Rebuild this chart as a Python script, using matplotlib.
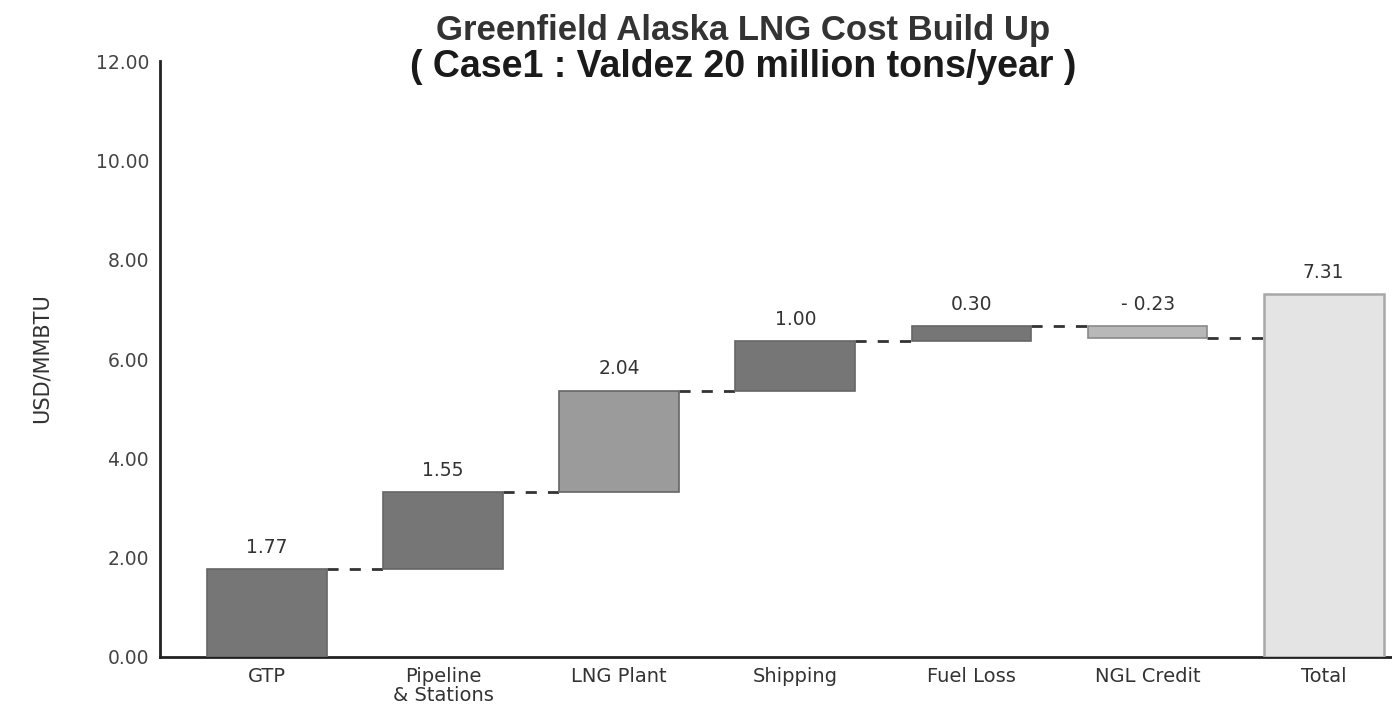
import numpy as np
import matplotlib
matplotlib.use("Agg")
import matplotlib.pyplot as plt

plt.rcParams['font.family'] = ['Liberation Sans', 'DejaVu Sans']

# cost build up, USD/MMBTU
categories = ['GTP', 'Pipeline\n& Stations', 'LNG Plant', 'Shipping', 'Fuel Loss', 'NGL Credit', 'Total']
steps = [1.77, 1.55, 2.04, 1.00, 0.30, -0.23]
step_labels = ['1.77', '1.55', '2.04', '1.00', '0.30', '- 0.23']
total = 7.31
total_label = '7.31'
step_colors = ['#767676', '#767676', '#9b9b9b', '#767676', '#767676', '#b8b8b8']
y_ticks = [0, 2, 4, 6, 8, 10, 12]

fig = plt.figure(figsize=(13.92, 7.17), dpi=100)
ax = fig.add_axes([0.115, 0.0837, 0.884, 0.831])

x = np.arange(len(categories))
width = 0.68

before = np.concatenate([[0], np.cumsum(steps)[:-1]])
after = np.cumsum(steps)
bottoms = np.minimum(before, after)
heights = np.abs(steps)

for i in range(len(steps)):
    edge = '#666666' if steps[i] > 0 else '#8a8a8a'
    ax.bar(x[i], heights[i], width, bottom=bottoms[i], color=step_colors[i],
           edgecolor=edge, linewidth=1.2, zorder=3)
    ax.annotate(step_labels[i], (x[i], max(before[i], after[i])),
                xytext=(0, 9), textcoords='offset points', ha='center', va='bottom',
                fontsize=13.5, color='#333333', family=['DejaVu Sans'])

ax.bar(x[-1], total, width, color='#e4e4e4', edgecolor='#a8a8a8', linewidth=1.8, zorder=3)
ax.annotate(total_label, (x[-1], total), xytext=(0, 9), textcoords='offset points',
            ha='center', va='bottom', fontsize=13.5, color='#333333', family=['DejaVu Sans'])

# dashed connectors between steps
for i in range(len(steps)):
    ax.plot([x[i] + width / 2, x[i + 1] - width / 2], [after[i], after[i]],
            color='#333333', linestyle=(0, (4, 4)), linewidth=2, zorder=2)

ax.set_xlim(-0.607, 6.38)
ax.set_ylim(0, 12)
ax.set_yticks(y_ticks)
ax.set_yticklabels(['%.2f' % v for v in y_ticks], fontsize=13.5, color='#444444', family=['DejaVu Sans'])
ax.set_xticks(x)
ax.set_xticklabels(categories, fontsize=14, color='#333333', family=['DejaVu Sans'],
                   linespacing=1.05, va='top')
ax.tick_params(axis='both', length=0)
ax.tick_params(axis='y', pad=8)
ax.tick_params(axis='x', pad=7)

for side in ['top', 'right']:
    ax.spines[side].set_visible(False)
for side in ['left', 'bottom']:
    ax.spines[side].set_color('#222222')
    ax.spines[side].set_linewidth(2)

fig.text(0.03, 0.5, 'USD/MMBTU', rotation=90, ha='center', va='center',
         fontsize=15, color='#333333', family=['DejaVu Sans'])

fig.text(0.534, 0.958, 'Greenfield Alaska LNG Cost Build Up', ha='center', va='center',
         fontsize=25, fontweight='bold', color='#333333')
fig.text(0.534, 0.907, '( Case1 : Valdez 20 million tons/year )', ha='center', va='center',
         fontsize=27, fontweight='bold', color='#1a1a1a')

fig.savefig('out.png', dpi=100)
